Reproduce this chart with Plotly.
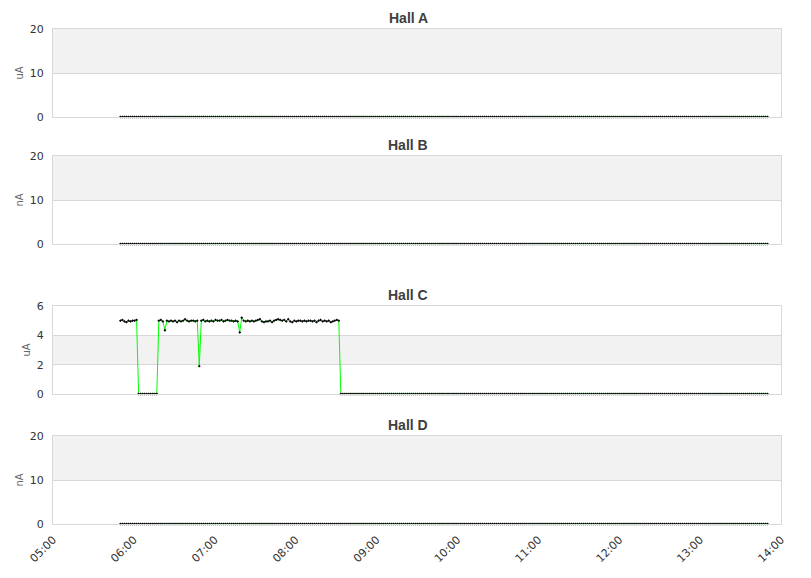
import pandas as pd
import plotly.graph_objects as go
from plotly.subplots import make_subplots

# samples every 90 s from 05:50 to 13:50
START = "2024-01-01 05:50"
N_POINTS = 321

HALLS = ["Hall A", "Hall B", "Hall C", "Hall D"]
UNITS = ["uA", "nA", "uA", "nA"]
Y_MAX = [20, 20, 6, 20]
Y_STEP = [10, 10, 2, 10]

HALL_C_BEAM = [
    5.0, 5.05, 4.95, 4.9, 5.0, 4.95, 5.0, 5.0, 5.05,
    0, 0, 0, 0, 0, 0, 0, 0, 0, 0,
    5.0, 5.05, 4.95, 4.35, 5.0, 4.95, 5.0, 4.95, 5.0, 4.9,
    5.0, 4.95, 5.0, 5.1, 5.0, 4.95, 5.0, 5.0, 4.95, 5.0,
    1.9, 5.0, 5.05, 4.95, 5.0, 4.95, 5.0, 4.95, 5.05, 5.0,
    5.0, 5.05, 4.95, 5.0, 5.05, 5.0, 5.0, 4.95, 5.0, 4.95,
    4.2, 5.2, 5.0, 4.95, 5.0, 4.95, 5.0, 4.95, 5.0, 5.05,
    5.1, 4.95, 4.9, 4.95, 4.95, 5.0, 4.9, 5.0, 5.05, 5.1,
    5.05, 5.0, 5.05, 4.95, 5.1, 4.95, 4.9, 5.0, 4.95, 5.0,
    5.0, 4.95, 5.0, 4.95, 5.0, 5.0, 4.95, 5.0, 4.9, 5.0,
    5.05, 4.95, 5.0, 4.95, 5.0, 4.9, 4.95, 5.0, 5.05, 5.0,
]
HALL_C = HALL_C_BEAM + [0.0] * (N_POINTS - len(HALL_C_BEAM))
HALL_A = [0.0] * N_POINTS
HALL_B = [0.0] * N_POINTS
HALL_D = [0.0] * N_POINTS
SERIES = [HALL_A, HALL_B, HALL_C, HALL_D]

times = pd.date_range(START, periods=N_POINTS, freq="90s")

# the page body adds an 8px margin around the figure
PAD = 8
W, H = 811 - 2 * PAD, 578 - 2 * PAD
# plot boxes in screen pixels (top, bottom)
BOXES = [(29, 117), (156, 244), (306, 394), (436, 524)]
TITLE_Y = [18, 145, 295, 425]
X0, X1 = 53, 781


def py(px):
    return 1 - (px - PAD) / H


def pxx(px):
    return (px - PAD) / W


fig = make_subplots(rows=4, cols=1, shared_xaxes=True)

grid = "#d8d8d8"
for i, (name, unit, vals) in enumerate(zip(HALLS, UNITS, SERIES)):
    row = i + 1
    fig.add_trace(
        go.Scatter(
            x=times, y=vals, mode="lines+markers",
            line=dict(color="#00ff00", width=1),
            marker=dict(color="black", size=2.2, symbol="diamond"),
            cliponaxis=False, showlegend=False,
        ),
        row=row, col=1,
    )
    # alternate band
    fig.add_hrect(
        y0=Y_STEP[i], y1=2 * Y_STEP[i], fillcolor="#f2f2f2", line_width=0,
        layer="below", row=row, col=1,
    )
    top, bot = BOXES[i]
    fig.update_yaxes(
        domain=[py(bot), py(top)], automargin=False,
        range=[0, Y_MAX[i]], dtick=Y_STEP[i],
        showgrid=True, gridcolor=grid, zeroline=False,
        showline=True, linecolor=grid, mirror=True,
        ticks="", ticklabelstandoff=6,
        tickfont=dict(family="DejaVu Sans", size=11, color="#333333"),
        title=dict(text=unit, standoff=4,
                   font=dict(family="DejaVu Sans", size=10, color="#666666")),
        row=row, col=1,
    )
    fig.update_xaxes(
        domain=[pxx(X0), pxx(X1)], automargin=False,
        range=["2024-01-01 05:00", "2024-01-01 14:00"],
        dtick=3600000, tickformat="%H:%M", tickangle=-45,
        showgrid=False, zeroline=False,
        showline=True, linecolor=grid, mirror=True,
        ticks="", showticklabels=(row == 4), ticklabelstandoff=4,
        tickfont=dict(family="DejaVu Sans", size=11, color="#333333"),
        row=row, col=1,
    )
    fig.add_annotation(
        text=f"<b>{name}</b>", x=pxx(408), y=py(TITLE_Y[i]),
        xref="paper", yref="paper", showarrow=False,
        xanchor="center", yanchor="middle",
        font=dict(family="Liberation Sans", size=14, color="#3e3e3e"),
    )

fig.update_layout(
    width=W, height=H,
    margin=dict(l=0, r=0, t=0, b=0),
    plot_bgcolor="white", paper_bgcolor="white",
)

fig.write_html("out.html")
